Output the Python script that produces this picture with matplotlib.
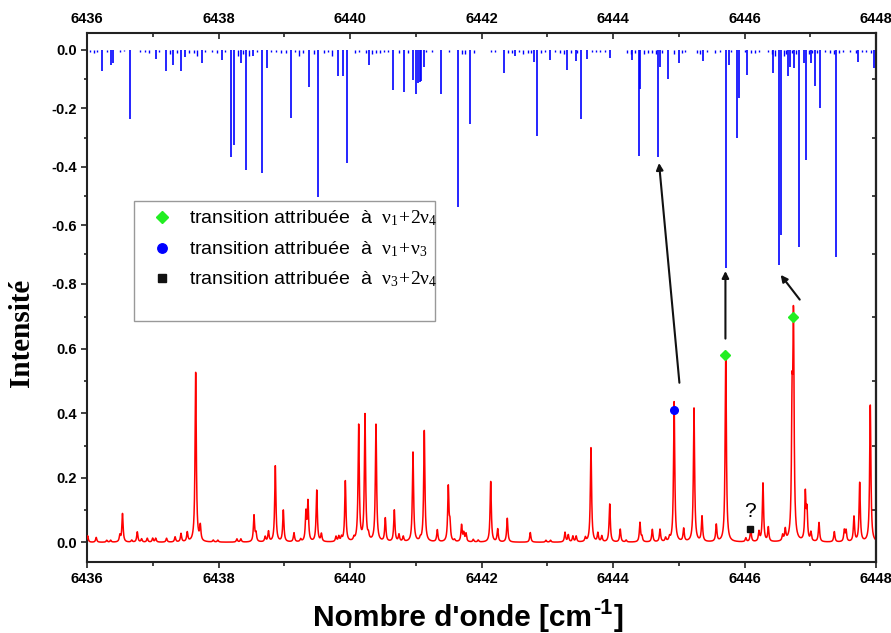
import numpy as np
import matplotlib
matplotlib.use("Agg")
import matplotlib.pyplot as plt
from matplotlib.patches import Rectangle
from matplotlib.ticker import FormatStrFormatter
from matplotlib.transforms import offset_copy

plt.rcParams.update({
    "font.family": "Liberation Sans",
    "axes.unicode_minus": False,
    "mathtext.fontset": "custom",
    "mathtext.rm": "Liberation Serif",
    "mathtext.it": "Liberation Serif:italic",
    "mathtext.bf": "Liberation Sans:bold",
})

# ---------------- observed spectrum: line centres (cm-1) and peak heights
obs_centres = [
    6436.01, 6436.14, 6436.30, 6436.36, 6436.50, 6436.54, 6436.68, 6436.765,
    6436.83, 6436.917, 6436.999, 6437.045, 6437.21, 6437.34, 6437.43, 6437.525,
    6437.653, 6437.723, 6437.92, 6437.99, 6438.28, 6438.34, 6438.54, 6438.57,
    6438.71, 6438.76, 6438.864, 6438.986, 6439.148, 6439.25, 6439.33, 6439.361,
    6439.494, 6439.565, 6439.787, 6439.83, 6439.87, 6439.929, 6440.06, 6440.132,
    6440.228, 6440.28, 6440.395, 6440.537, 6440.674, 6440.745, 6440.81, 6440.958,
    6441.07, 6441.13, 6441.328, 6441.495, 6441.52, 6441.59, 6441.697, 6441.73,
    6441.764, 6441.875, 6441.95, 6442.14, 6442.246, 6442.392, 6442.742, 6442.98,
    6443.05, 6443.27, 6443.32, 6443.39, 6443.44, 6443.58, 6443.665, 6443.77,
    6443.83, 6443.95, 6444.11, 6444.20, 6444.41, 6444.44, 6444.598, 6444.715,
    6444.80, 6444.86, 6444.93, 6445.075, 6445.232, 6445.354, 6445.571, 6445.715,
    6446.02, 6446.095, 6446.22, 6446.281, 6446.362, 6446.58, 6446.62, 6446.724,
    6446.745, 6446.925, 6446.95, 6447.01, 6447.133, 6447.366, 6447.518, 6447.545,
    6447.665, 6447.752, 6447.913,
]
obs_heights = [
    0.020, 0.015, 0.006, 0.006, 0.020, 0.088, 0.006, 0.032,
    0.010, 0.012, 0.012, 0.012, 0.012, 0.016, 0.026, 0.029,
    0.530, 0.046, 0.006, 0.006, 0.010, 0.010, 0.082, 0.025,
    0.016, 0.032, 0.236, 0.098, 0.028, 0.008, 0.088, 0.122,
    0.160, 0.024, 0.016, 0.016, 0.013, 0.190, 0.010, 0.360,
    0.392, 0.015, 0.366, 0.073, 0.098, 0.022, 0.016, 0.278,
    0.008, 0.345, 0.037, 0.170, 0.050, 0.006, 0.052, 0.026,
    0.025, 0.008, 0.006, 0.188, 0.040, 0.074, 0.030, 0.006,
    0.006, 0.030, 0.022, 0.018, 0.018, 0.013, 0.295, 0.027,
    0.018, 0.118, 0.040, 0.006, 0.060, 0.015, 0.039, 0.039,
    0.012, 0.012, 0.435, 0.040, 0.415, 0.078, 0.053, 0.590,
    0.012, 0.040, 0.030, 0.183, 0.044, 0.018, 0.035, 0.380,
    0.650, 0.146, 0.090, 0.027, 0.060, 0.032, 0.035, 0.034,
    0.078, 0.183, 0.428,
]
line_hwhm = 0.011

# ---------------- calculated line list (stick spectrum, drawn downward)
calc_pos_strong = [
    6436.224, 6436.365, 6436.395, 6436.659, 6437.045, 6437.197, 6437.313, 6437.425,
    6437.490, 6437.744, 6438.058, 6438.186, 6438.240, 6438.342, 6438.418, 6438.520,
    6438.662, 6438.733, 6439.098, 6439.372, 6439.518, 6439.817, 6439.889, 6439.950,
    6440.289, 6440.659, 6440.821, 6440.954, 6441.002, 6441.034, 6441.061, 6441.084,
    6441.125, 6441.389, 6441.647, 6441.825, 6442.342, 6442.510, 6442.803, 6442.837,
    6443.037, 6443.305, 6443.430, 6443.513, 6443.605, 6443.954, 6444.293, 6444.388,
    6444.414, 6444.692, 6444.715, 6444.841, 6445.008, 6445.373, 6445.715, 6445.767,
    6445.890, 6445.920, 6446.033, 6446.438, 6446.529, 6446.551, 6446.654, 6446.697,
    6446.753, 6446.833, 6446.905, 6446.935, 6447.007, 6447.069, 6447.148, 6447.392,
    6447.725, 6447.970,
]
calc_int_strong = [
    0.071, 0.050, 0.045, 0.236, 0.030, 0.071, 0.050, 0.073,
    0.023, 0.043, 0.034, 0.368, 0.327, 0.046, 0.410, 0.020,
    0.421, 0.063, 0.234, 0.128, 0.505, 0.089, 0.090, 0.387,
    0.050, 0.137, 0.144, 0.103, 0.151, 0.112, 0.110, 0.108,
    0.057, 0.151, 0.537, 0.255, 0.080, 0.020, 0.040, 0.295,
    0.033, 0.068, 0.037, 0.235, 0.032, 0.029, 0.034, 0.362,
    0.135, 0.367, 0.060, 0.100, 0.046, 0.038, 0.745, 0.050,
    0.300, 0.166, 0.087, 0.079, 0.736, 0.632, 0.089, 0.058,
    0.061, 0.673, 0.043, 0.377, 0.044, 0.125, 0.200, 0.710,
    0.040, 0.063,
]
calc_pos_weak = [
    6436.05, 6436.10, 6436.15, 6436.30, 6436.50, 6436.56, 6436.80, 6436.88,
    6436.95, 6437.10, 6437.26, 6437.37, 6437.55, 6437.62, 6437.68, 6437.80,
    6437.90, 6437.98, 6438.10, 6438.30, 6438.38, 6438.47, 6438.58, 6438.80,
    6438.87, 6438.95, 6439.03, 6439.16, 6439.22, 6439.28, 6439.45, 6439.60,
    6439.66, 6439.72, 6440.07, 6440.14, 6440.24, 6440.33, 6440.40, 6440.46,
    6440.52, 6440.58, 6440.75, 6440.88, 6441.16, 6441.25, 6441.50, 6441.70,
    6441.75, 6441.88, 6442.15, 6442.20, 6442.40, 6442.46, 6442.57, 6442.63,
    6442.70, 6442.75, 6442.90, 6442.96, 6443.12, 6443.20, 6443.25, 6443.36,
    6443.46, 6443.68, 6443.74, 6443.80, 6443.88, 6444.22, 6444.28, 6444.33,
    6444.47, 6444.53, 6444.60, 6444.65, 6444.75, 6444.93, 6445.05, 6445.10,
    6445.28, 6445.32, 6445.43, 6445.55, 6445.62, 6445.80, 6446.00, 6446.10,
    6446.16, 6446.22, 6446.35, 6446.42, 6446.47, 6446.60, 6446.63, 6446.72,
    6446.78, 6446.98, 6447.03, 6447.10, 6447.22, 6447.30, 6447.36, 6447.44,
    6447.50, 6447.60, 6447.70, 6447.78, 6447.85, 6447.93,
]
calc_int_weak = [
    0.006, 0.012, 0.008, 0.006, 0.008, 0.005, 0.008, 0.006,
    0.010, 0.006, 0.015, 0.010, 0.012, 0.010, 0.020, 0.008,
    0.006, 0.010, 0.006, 0.020, 0.015, 0.020, 0.006, 0.008,
    0.006, 0.010, 0.012, 0.006, 0.020, 0.012, 0.015, 0.012,
    0.008, 0.020, 0.010, 0.008, 0.010, 0.015, 0.012, 0.010,
    0.008, 0.006, 0.010, 0.012, 0.008, 0.006, 0.006, 0.015,
    0.015, 0.010, 0.006, 0.006, 0.012, 0.010, 0.008, 0.015,
    0.010, 0.012, 0.012, 0.008, 0.008, 0.012, 0.015, 0.012,
    0.010, 0.006, 0.008, 0.006, 0.006, 0.010, 0.015, 0.012,
    0.015, 0.010, 0.012, 0.015, 0.012, 0.015, 0.012, 0.008,
    0.010, 0.015, 0.008, 0.010, 0.006, 0.008, 0.008, 0.012,
    0.010, 0.006, 0.006, 0.015, 0.020, 0.020, 0.015, 0.012,
    0.015, 0.015, 0.010, 0.010, 0.008, 0.012, 0.015, 0.010,
    0.008, 0.006, 0.012, 0.008, 0.006, 0.010,
]

# ---------------- assigned transitions on the observed spectrum
v1_2v4_x = [6445.71, 6446.74]
v1_2v4_y = [0.58, 0.70]
v1_v3_x = [6444.93]
v1_v3_y = [0.41]
v3_2v4_x = [6446.09]
v3_2v4_y = [0.04]

# arrows: from observed line (lower scale) to calculated line (upper scale)
arrow_tail_x = [6445.01, 6445.71, 6446.84]
arrow_tail_y = [0.495, 0.632, 0.753]
arrow_head_x = [6444.70, 6445.71, 6446.55]
arrow_head_y = [-0.387, -0.757, -0.770]

legend_labels = [
    r"transition attribuée  à  $\mathrm{\nu_1\!+\!2\nu_4}$",
    r"transition attribuée  à  $\mathrm{\nu_1\!+\!\nu_3}$",
    r"transition attribuée  à  $\mathrm{\nu_3\!+\!2\nu_4}$",
]

# ---------------- build the observed profile (sum of Lorentzian lines)
grid = np.linspace(6436.0, 6448.0, 6001)
profile = np.zeros_like(grid)
for c, h in zip(obs_centres, obs_heights):
    profile += h * line_hwhm**2 / ((grid - c) ** 2 + line_hwhm**2)

# ---------------- figure
W, H = 891, 633
fig = plt.figure(figsize=(W / 100, H / 100), dpi=100)
rect = [87 / W, 1 - 562 / H, (876 - 87) / W, (562 - 33) / H]
ax = fig.add_axes(rect)
ax2 = fig.add_axes(rect, sharex=ax)
ax2.patch.set_visible(False)

spine_col = "#222222"

# observed spectrum
ax.plot(grid, profile, color="#ff0000", lw=1.1, zorder=3)
ax.plot(v1_2v4_x, v1_2v4_y, ls="none", marker="D", ms=4.8, color="#22ee22",
        mec="#22ee22", zorder=6)
ax.plot(v1_v3_x, v1_v3_y, ls="none", marker="o", ms=5.5, color="#0000ff", zorder=6)
ax.plot(v3_2v4_x, v3_2v4_y, ls="none", marker="s", ms=4.6, color="#111111", zorder=6)
ax.text(v3_2v4_x[0], 0.095, "?", fontsize=15, ha="center", va="center", zorder=6)

# calculated stick spectrum
ax2.vlines(calc_pos_strong, -np.array(calc_int_strong), 0, color="#0000ff", lw=1.2)
ax2.vlines(calc_pos_weak, -np.array(calc_int_weak), 0, color="#0000ff", lw=1.0)

# limits
ax.set_xlim(6436, 6448)
ax.set_ylim(-0.061, 1.58)
ax2.set_ylim(-1.753, 0.058)

# x ticks (shared)
ax.set_xticks(np.arange(6436, 6449, 2))
ax.set_xticks(np.arange(6437, 6448, 2), minor=True)
ax.xaxis.set_major_formatter(FormatStrFormatter("%d"))

ax.xaxis.set_ticks_position("bottom")
ax.tick_params(axis="x", which="both", direction="out", top=False, labeltop=False,
               width=1.2, color=spine_col)
ax.tick_params(axis="x", which="major", length=4, pad=3.5)
ax.tick_params(axis="x", which="minor", length=3)

ax2.xaxis.set_visible(True)
ax2.xaxis.set_ticks_position("top")
ax2.tick_params(axis="x", which="both", direction="in", top=True, bottom=False,
                labeltop=True, labelbottom=False, width=1.2, color=spine_col)
ax2.tick_params(axis="x", which="major", length=4, pad=5)
ax2.tick_params(axis="x", which="minor", length=3)

# y ticks: lower scale (observed) and upper scale (calculated) both on the left
ax.set_yticks([0.0, 0.2, 0.4, 0.6])
ax.set_yticks([0.1, 0.3, 0.5, 0.7], minor=True)
ax.yaxis.set_major_formatter(FormatStrFormatter("%.1f"))
ax2.set_yticks([-0.8, -0.6, -0.4, -0.2, 0.0])
ax2.set_yticks([-0.7, -0.5, -0.3, -0.1], minor=True)
ax2.yaxis.set_major_formatter(FormatStrFormatter("%.1f"))
for a in (ax, ax2):
    a.yaxis.set_ticks_position("left")
    a.yaxis.set_label_position("left")
    a.tick_params(axis="y", which="both", direction="out", right=False,
                  width=1.2, color=spine_col)
    a.tick_params(axis="y", which="major", length=4.5, pad=3)
    a.tick_params(axis="y", which="minor", length=2.5)

for a in (ax, ax2):
    for lab in a.get_xticklabels() + a.get_yticklabels():
        lab.set_fontsize(10.5)
        lab.set_fontweight("bold")

# short inner ticks on the right frame
for a, ticks in ((ax, [0.1, 0.3, 0.5, 0.7]), (ax2, [-0.7, -0.5, -0.3, -0.1])):
    sec = a.secondary_yaxis("right")
    sec.set_yticks(ticks)
    sec.tick_params(direction="in", length=3, width=1.2, labelright=False,
                    color=spine_col)
    sec.spines["right"].set_color(spine_col)
    sec.spines["right"].set_linewidth(1.5)

for s in ax.spines.values():
    s.set_color(spine_col)
    s.set_linewidth(1.5)
for s in ax2.spines.values():
    s.set_visible(False)

# arrows
for tx, ty, hx, hy in zip(arrow_tail_x, arrow_tail_y, arrow_head_x, arrow_head_y):
    ax2.annotate("", xy=(hx, hy), xycoords="data", xytext=(tx, ty),
                 textcoords=ax.transData,
                 arrowprops=dict(arrowstyle="-|>", color="#111111", lw=1.5,
                                 mutation_scale=10, shrinkA=0, shrinkB=0))

# legend box
ax2.add_patch(Rectangle((0.0596, 0.4556), 0.441 - 0.0596, 0.6824 - 0.4556,
                        transform=ax2.transAxes, facecolor="white",
                        edgecolor="#999999", lw=1.0, zorder=8))
legend_marker_y = [0.652, 0.5936, 0.5369]
legend_text_y = [0.6403, 0.5822, 0.525]
legend_styles = [
    dict(marker="D", ms=6.0, color="#22ee22", mec="#22ee22"),
    dict(marker="o", ms=6.8, color="#0000ff"),
    dict(marker="s", ms=5.2, color="#111111"),
]
for my, ty, lab, st in zip(legend_marker_y, legend_text_y, legend_labels, legend_styles):
    ax2.plot([0.095], [my], ls="none", transform=ax2.transAxes, zorder=9,
             clip_on=False, **st)
    ax2.text(0.1293, ty, lab, transform=ax2.transAxes, fontsize=14,
             va="baseline", ha="left", zorder=9)

# axis titles
fig.text(22 / W, 1 - 333 / H, "Intensité", rotation=90, ha="center", va="center",
         fontsize=21, fontweight="bold", family="Liberation Serif")

# x title assembled from pieces so the exponent keeps a plain hyphen
renderer = fig.canvas.get_renderer()
x0, base_y = 313 / W, 1 - 626 / H
t1 = fig.text(x0, base_y, "Nombre d'onde [cm", ha="left", va="baseline",
              fontsize=21.5, fontweight="bold")
w1 = t1.get_window_extent(renderer).width
t2 = fig.text(x0, base_y, "-1", ha="left", va="baseline", fontsize=15.5,
              fontweight="bold",
              transform=offset_copy(fig.transFigure, fig=fig, x=w1 + 1, y=12,
                                    units="dots"))
w2 = t2.get_window_extent(renderer).width
fig.text(x0, base_y, "]", ha="left", va="baseline", fontsize=21.5, fontweight="bold",
         transform=offset_copy(fig.transFigure, fig=fig, x=w1 + w2 + 2, y=0,
                               units="dots"))

fig.savefig("out.png", dpi=100)
